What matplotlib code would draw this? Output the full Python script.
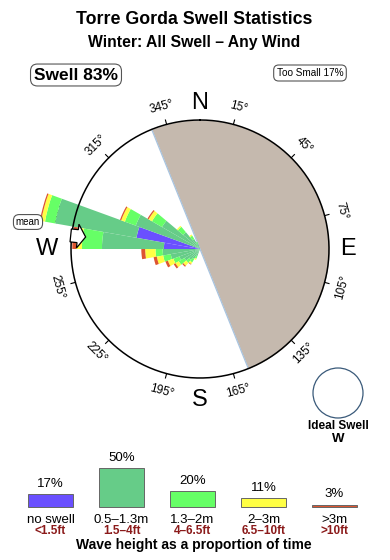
import matplotlib.pyplot as plt
import numpy as np
from matplotlib.patches import Circle, FancyArrow

plt.rcParams['font.family'] = ['Liberation Sans', 'DejaVu Sans']

# swell rose: 10 degree bins, segment lengths (circle radius = 10)
directions = [205, 215, 225, 235, 245, 255, 265, 275, 285, 295, 305, 315, 325, 335]
no_swell = [0, 0, 0, 0, 0, 0, 0, 2.8, 5.0, 0, 0, 0, 0, 0]
h_05_13 = [0.6, 0.9, 1.1, 1.4, 1.7, 2.3, 2.9, 4.8, 6.4, 5.3, 3.4, 1.7, 0.9, 0.45]
h_13_2 = [0.2, 0.3, 0.3, 0.5, 0.5, 0.6, 0.55, 1.55, 0.8, 0.9, 0.9, 0.55, 0.3, 0.15]
h_2_3 = [0.1, 0.15, 0.3, 0.3, 0.45, 0.5, 0.8, 0.45, 0.3, 0.3, 0.3, 0.1, 0.1, 0]
h_3 = [0, 0.05, 0.1, 0.15, 0.2, 0.25, 0.3, 0.3, 0.1, 0.1, 0.1, 0, 0, 0]
mean_dir = 276
land_from, land_to = 338, 518   # degrees, clockwise through east

tick_dirs = [345, 15, 45, 75, 105, 135, 165, 195, 225, 255, 285, 315]

# legend
cat_pct = [17, 50, 20, 11, 3]
cat_m = ['no swell', '0.5\u20131.3m', '1.3\u20132m', '2\u20133m', '>3m']
cat_ft = ['<1.5ft', '1.5\u20134ft', '4\u20136.5ft', '6.5\u201310ft', '>10ft']
colors = ['#6a50ff', '#66cc88', '#66ff66', '#ffff44', '#dd5530']

W, H = 390, 560
fig = plt.figure(figsize=(W / 100, H / 100), dpi=100)

# polar rose
cx, cy, R = 200, 249, 129.0
rmax = 13.0
rpx = R / 10 * rmax
ax = fig.add_axes([(cx - rpx) / W, (H - cy - rpx) / H, 2 * rpx / W, 2 * rpx / H],
                  projection='polar')
ax.set_theta_zero_location('N')
ax.set_theta_direction(-1)
ax.set_ylim(0, rmax)
ax.axis('off')

t = np.radians(np.linspace(land_from, land_to, 200))
ax.fill_between(t, 0, 10, color='#c5b9ae', lw=0, zorder=1)
ax.plot([np.radians(land_from), 0, np.radians(land_to)], [10, 0, 10],
        color='#a8c4e0', lw=0.9, zorder=2)
tc = np.linspace(0, 2 * np.pi, 400)
ax.plot(tc, np.full_like(tc, 10), color='black', lw=1.1, zorder=5)

for d in tick_dirs:
    th = np.radians(d)
    ax.plot([th, th], [10, 10.35], color='black', lw=0.8, zorder=3)
    rot = -d if (d < 90 or d > 270) else 180 - d
    ax.text(th, 11.4, f'{d}\u00b0', ha='center', va='center', rotation=rot,
            rotation_mode='anchor', fontsize=8.5, zorder=2)

for lab, d, r in [('N', 0, 11.35), ('E', 90, 11.5), ('S', 180, 11.7), ('W', 270, 11.85)]:
    ax.text(np.radians(d), r, lab, ha='center', va='center', fontsize=17)

theta = np.radians(directions)
bottom = np.zeros(len(directions))
for seg, c in zip([no_swell, h_05_13, h_13_2, h_2_3, h_3], colors):
    seg = np.array(seg)
    ax.bar(theta, seg, width=np.radians(10), bottom=bottom, color=c,
           edgecolor='none', zorder=4, clip_on=False)
    bottom += seg

# full-figure overlay in pixel coords (on top)
ov = fig.add_axes([0, 0, 1, 1])
ov.set_zorder(10)
ov.set_xlim(0, W)
ov.set_ylim(H, 0)
ov.axis('off')

# mean direction arrow, pointing inward from the circle
mr = np.radians(mean_dir)
ux, uy = np.sin(mr), -np.cos(mr)
ov.add_patch(FancyArrow(cx + ux * (R + 1), cy + uy * (R + 1), -ux * 15, -uy * 15,
                        width=13, head_width=24, head_length=8,
                        length_includes_head=True, fc='white', ec='black', lw=0.9))

ov.text(194, 19, 'Torre Gorda Swell Statistics', ha='center', va='center',
        fontsize=12.8, fontweight='bold')
ov.text(194, 42, 'Winter: All Swell \u2013 Any Wind', ha='center', va='center',
        fontsize=11.3, fontweight='bold')
ov.text(76, 75, 'Swell 83%', ha='center', va='center', fontsize=12.5, fontweight='bold',
        bbox=dict(boxstyle='round,pad=0.2,rounding_size=0.4', fc='white', ec='#555555', lw=0.8))
ov.text(310, 73, 'Too Small 17%', ha='center', va='center', fontsize=7.2,
        bbox=dict(boxstyle='round,pad=0.3,rounding_size=0.5', fc='white', ec='#555555', lw=0.8))
ov.text(28, 222, 'mean', ha='center', va='center', fontsize=7,
        bbox=dict(boxstyle='round,pad=0.25,rounding_size=0.6', fc='white', ec='#555555', lw=0.8))

ov.add_patch(Circle((338, 393), 25, fill=False, ec='#3a5a7a', lw=0.9))
ov.text(338, 426, 'Ideal Swell', ha='center', va='center', fontsize=8.5, fontweight='bold')
ov.text(338, 439, 'W', ha='center', va='center', fontsize=9.5, fontweight='bold')

# legend bars
lg = fig.add_axes([15 / W, (H - 507) / H, 355 / W, 50 / H])
lg.set_xlim(-0.5, 4.5)
lg.set_ylim(0, 64)
lg.axis('off')
x = np.arange(len(cat_pct))
lg.bar(x, cat_pct, width=0.634, color=colors, edgecolor='#666666', linewidth=0.7,
       clip_on=False)
for i, p in enumerate(cat_pct):
    lg.annotate(f'{p}%', (x[i], p), xytext=(0, 3), textcoords='offset points',
                ha='center', va='bottom', fontsize=9.5, annotation_clip=False)
    lg.annotate(cat_m[i], (x[i], 0), xytext=(0, -9.5), textcoords='offset points',
                ha='center', va='center', fontsize=9.5, annotation_clip=False)
    lg.annotate(cat_ft[i], (x[i], 0), xytext=(0, -17.5), textcoords='offset points',
                ha='center', va='center', fontsize=8.5, fontweight='bold',
                color='#8b1a1a', annotation_clip=False)

ov.text(194, 545, 'Wave height as a proportion of time', ha='center', va='center',
        fontsize=10, fontweight='bold')

fig.savefig('out.png', dpi=100)
